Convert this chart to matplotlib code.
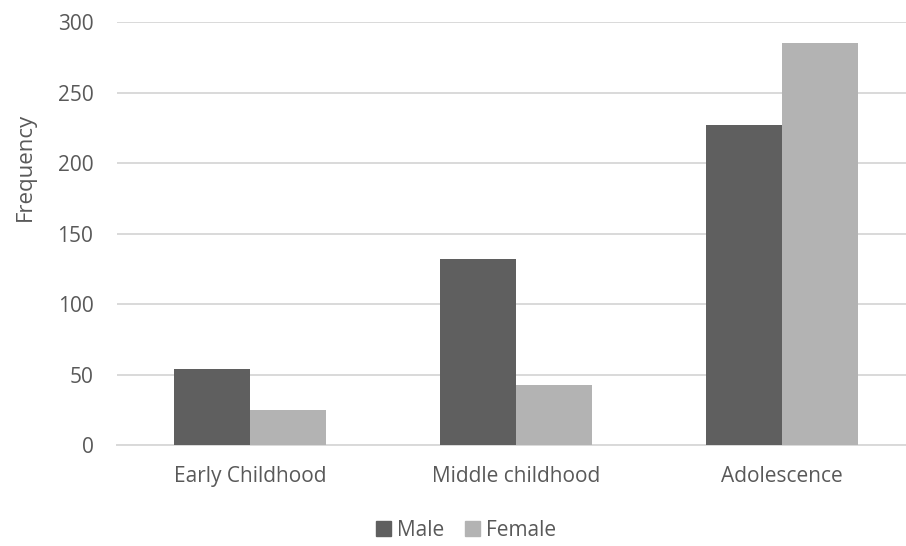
import matplotlib
matplotlib.use("Agg")
import matplotlib.pyplot as plt
import numpy as np
from matplotlib.patches import Patch

categories = ["Early Childhood", "Middle childhood", "Adolescence"]
male = [54, 132, 227]
female = [25, 43, 285]
series_names = ["Male", "Female"]
yticks = [0, 50, 100, 150, 200, 250, 300]

male_color = "#5f5f5f"
female_color = "#b3b3b3"
text_color = "#595959"
grid_color = "#d9d9d9"

plt.rcParams["font.family"] = ["Open Sans", "DejaVu Sans"]

W, H = 906, 546
fig = plt.figure(figsize=(W / 100, H / 100), dpi=100)
left, right, top, bottom = 117, 906, 22, 445.3
ax = fig.add_axes([left / W, 1 - bottom / H, (right - left) / W, (bottom - top) / H])

x = np.arange(len(categories))
bw = 76 / 266
ax.bar(x - bw / 2, male, width=bw, color=male_color, zorder=3)
ax.bar(x + bw / 2, female, width=bw, color=female_color, zorder=3)

ax.set_xlim(-0.5, -0.5 + (right - left) / 266)
ax.set_ylim(0, 300)
ax.set_yticks(yticks)
ax.set_xticks(x)
ax.set_xticklabels(categories)
ax.yaxis.grid(True, color=grid_color, linewidth=1.4, zorder=0)
ax.set_axisbelow(True)
for s in ["top", "right", "left"]:
    ax.spines[s].set_visible(False)
ax.spines["bottom"].set_color(grid_color)
ax.spines["bottom"].set_linewidth(1.4)
ax.tick_params(axis="both", length=0, labelsize=15, labelcolor=text_color)
ax.tick_params(axis="y", pad=17)
ax.tick_params(axis="x", pad=15)

fig.text(25 / W, 1 - 167 / H, "Frequency", rotation=90, ha="center", va="center",
         fontsize=16, color=text_color)

handles = [Patch(color=male_color), Patch(color=female_color)]
fig.legend(handles, series_names, loc="center", bbox_to_anchor=(466 / W, 1 - 530 / H),
           ncol=2, frameon=False, fontsize=15, labelcolor=text_color,
           handlelength=0.7, handleheight=0.7, handletextpad=0.3, columnspacing=1.0)

fig.savefig("out.png", dpi=100)
